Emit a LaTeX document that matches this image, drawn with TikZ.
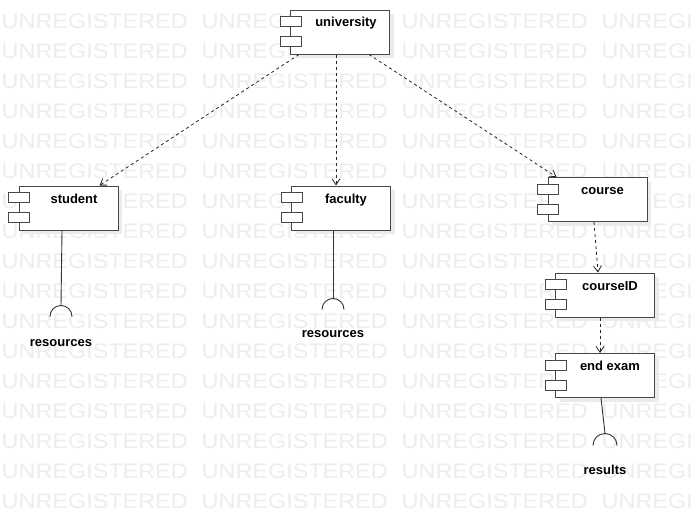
\documentclass[tikz,border=0pt]{standalone}
\usepackage{fontspec}
\setmainfont{Liberation Sans}
\usetikzlibrary{arrows.meta,shadows,calc}
\newcommand\umlcomp[4]{%
  \node[comp] (#1) at (#2) {};
  \node[port] (#1-p1) at ($(#1.north west)+(0.5,12)$) {};
  \node[port] (#1-p2) at ($(#1.north west)+(0.5,32)$) {};
  \node[ctitle] (#1-t) at ($(#1.north)+(#3,17.5)$) {#4};
}
\begin{document}
\begin{tikzpicture}[x=1pt,y=-1pt,
  comp/.style={draw=black!72, line width=1pt, fill=white, rectangle,
    minimum width=99pt, minimum height=44pt, inner sep=0pt,
    drop shadow={shadow xshift=4pt, shadow yshift=-4pt, fill=black!8, opacity=1}},
  port/.style={draw=black!72, line width=1pt, fill=white, rectangle,
    minimum width=21pt, minimum height=10pt, inner sep=0pt},
  ctitle/.style={font=\bfseries\fontsize{13}{13}\selectfont, anchor=base, inner sep=0pt},
  dep/.style={draw=black!85, line width=0.8pt, dash pattern=on 3pt off 3pt,
    -{Straight Barb[length=6pt,width=8pt]}},
  wire/.style={draw=black!80, line width=0.9pt},
  wm/.style={font=\fontsize{21}{21}\selectfont, text=black!7, anchor=base west, inner sep=0pt}]

\useasboundingbox (0,0) rectangle (694,522);
\fill[white] (0,0) rectangle (694,522);
\foreach \r in {0,...,16} {
  \foreach \c in {0,...,3} {
    \node[wm] (wm-\r-\c) at (\c*200+1.5, 28+30*\r) {\scalebox{1.115}[1]{UNREGISTERED}};
  }
}

\umlcomp{uni}{340,32}{6}{university}
\umlcomp{stu}{68.5,208}{5.5}{student}
\umlcomp{fac}{341,208}{5}{faculty}
\umlcomp{crs}{597.5,199.5}{5}{course}
\umlcomp{cid}{605,295}{5}{courseID}
\umlcomp{end}{605,375.5}{5}{end exam}

% dependencies
\draw[dep] ($(uni.south west)+(9,0)$) -- ($(stu.north west)+(81,0)$);
\draw[dep] ($(uni.south)+(-4,0)$) -- ($(fac.north)+(-5,0)$);
\draw[dep] ($(uni.south west)+(79,0)$) -- ($(crs.north west)+(9,0)$);
\draw[dep] ($(crs.south)+(-3.5,0)$) -- ($(cid.north)+(-7,0)$);
\draw[dep] ($(cid.south)+(-5,0)$) -- ($(end.north)+(-5,0)$);

% required interfaces (sockets)
\coordinate (stu-s) at ($(stu.south)+(-7.5,75)$);
\draw[wire] ($(stu.south)+(-6.5,0)$) -- (stu-s);
\draw[wire] ($(stu-s)+(-11,11)$) arc[start angle=180, end angle=360, radius=11];
\node[ctitle] (stu-r) at ($(stu-s)+(0,41)$) {resources};

\coordinate (fac-s) at ($(fac.south)+(-8,68)$);
\draw[wire] ($(fac.south)+(-8,0)$) -- (fac-s);
\draw[wire] ($(fac-s)+(-11,11)$) arc[start angle=180, end angle=360, radius=11];
\node[ctitle] (fac-r) at ($(fac-s)+(0,39)$) {resources};

\coordinate (end-s) at ($(end.south)+(0,35.5)$);
\draw[wire] ($(end.south)+(-4,0)$) -- (end-s);
\draw[wire] ($(end-s)+(-12,12)$) arc[start angle=180, end angle=360, radius=12];
\node[ctitle] (end-r) at ($(end-s)+(0,41)$) {results};
\end{tikzpicture}
\end{document}
